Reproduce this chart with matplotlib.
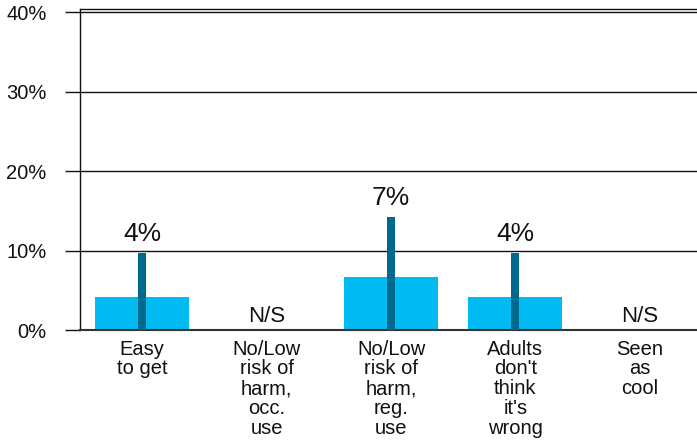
import matplotlib
matplotlib.use("Agg")
import matplotlib.pyplot as plt
import numpy as np

plt.rcParams['font.family'] = ['Liberation Sans', 'DejaVu Sans']

categories = ["Easy\nto get", "No/Low\nrisk of\nharm,\nocc.\nuse", "No/Low\nrisk of\nharm,\nreg.\nuse",
              "Adults\ndon't\nthink\nit's\nwrong", "Seen\nas\ncool"]
values = [4.15, None, 6.7, 4.15, None]
upper = [9.7, None, 14.2, 9.7, None]
labels = ["4%", "N/S", "7%", "4%", "N/S"]
yticks = [0, 10, 20, 30, 40]

fig = plt.figure(figsize=(6.97, 4.44), dpi=100)
ax = fig.add_axes([80/697, (444-330)/444, 622/697, (330-9)/444])

x = np.arange(len(categories))
for i in range(len(categories)):
    if values[i] is not None:
        ax.bar(x[i], values[i], width=0.755, color='#00BBF2', zorder=2)
        ax.bar(x[i], upper[i], width=0.064, color='#00698F', zorder=3)
        ax.annotate(labels[i], (x[i], upper[i]), xytext=(0, 8.6), textcoords='offset points',
                    ha='center', va='baseline', fontsize=19, color='#111111')
    else:
        ax.annotate(labels[i], (x[i], 0), xytext=(0, 6), textcoords='offset points',
                    ha='center', va='baseline', fontsize=16, color='#111111')

ax.set_xlim(-0.5, len(categories) - 0.5)
ax.set_ylim(0, 40.38)
ax.set_yticks(yticks)
ax.set_yticklabels([f"{v}%" for v in yticks], fontsize=14.5, color='#111111')
ax.yaxis.grid(True, color='#111111', linewidth=1.0, zorder=0)
ax.set_axisbelow(True)
ax.tick_params(axis='y', length=11, width=1.0, color='#111111', pad=13)
ax.set_xticks(x)
ax.set_xticklabels(categories, fontsize=14.5, color='#111111', linespacing=1.05, va='top')
ax.tick_params(axis='x', length=0, pad=7)
for s in ['left', 'top', 'right', 'bottom']:
    ax.spines[s].set_color('#111111')
    ax.spines[s].set_linewidth(1.0)
ax.spines['bottom'].set_color('#333333')
ax.spines['bottom'].set_linewidth(1.5)

fig.savefig("out.png", dpi=100)
